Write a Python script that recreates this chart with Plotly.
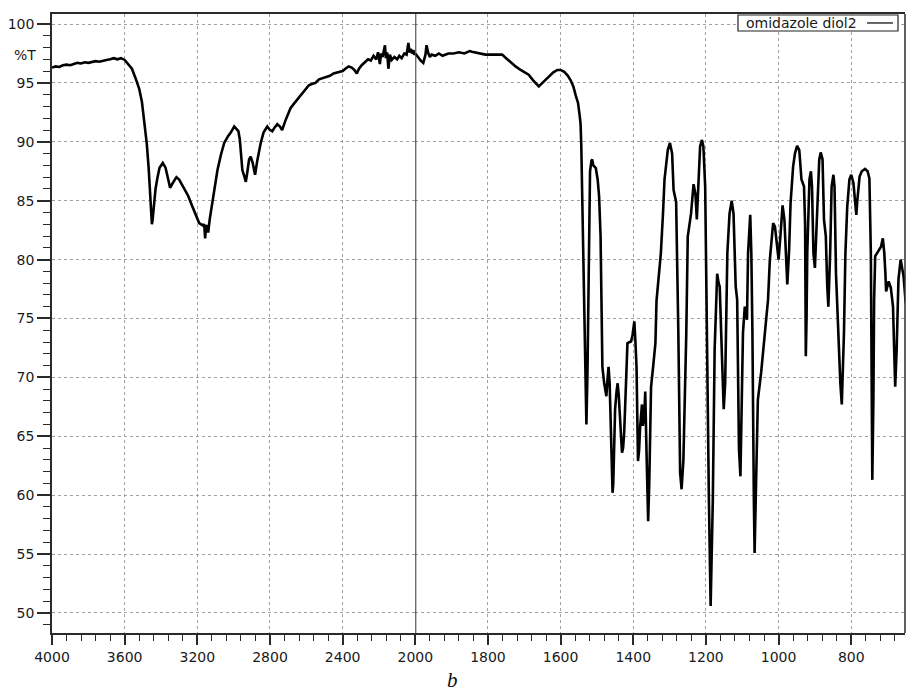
import numpy as np
import plotly.graph_objects as go

# IR spectrum of omidazole diol2: wavenumber (cm-1) vs. transmittance (%T)
SERIES_NAME = "omidazole diol2"
PANEL_LABEL = "b"
Y_TITLE = "%T"

WAVENUMBER = [
    4000, 3980, 3960, 3940, 3920, 3900, 3880, 3860, 3840, 3820, 3800, 3780, 3760, 3740,
    3720, 3700, 3680, 3660, 3640, 3620, 3600, 3580, 3560, 3540, 3520, 3505, 3490, 3478,
    3468, 3460, 3454, 3450, 3446, 3440, 3430, 3420, 3408, 3390, 3375, 3360, 3350, 3335,
    3315, 3300, 3285, 3270, 3250, 3235, 3210, 3190, 3170, 3162, 3157, 3152, 3145, 3140,
    3132, 3116, 3100, 3089, 3070, 3052, 3030, 3015, 2997, 2985, 2974, 2966, 2961, 2952,
    2940, 2933, 2925, 2915, 2906, 2895, 2886, 2882, 2870, 2851, 2835, 2815, 2800, 2787,
    2775, 2760, 2745, 2733, 2715, 2700, 2687, 2670, 2655, 2641, 2620, 2600, 2586, 2570,
    2550, 2530, 2513, 2495, 2470, 2450, 2430, 2413, 2400, 2385, 2367, 2350, 2335, 2322,
    2310, 2295, 2276, 2260, 2245, 2230, 2215, 2205, 2195, 2188, 2180, 2172, 2167, 2162,
    2155, 2148, 2140, 2130, 2115, 2100, 2088, 2075, 2060, 2048, 2042, 2038, 2032, 2025,
    2018, 2011, 2005, 2000,
    1995, 1992, 1985, 1978, 1972, 1969, 1965, 1960, 1955, 1945, 1935, 1925, 1909, 1895,
    1880, 1865, 1850, 1844, 1835, 1825, 1815, 1807, 1790, 1775, 1761, 1750, 1740, 1732,
    1724, 1710, 1700, 1688, 1675, 1665, 1660, 1650, 1640, 1632, 1620, 1609, 1600, 1590,
    1580, 1572, 1565, 1558, 1552, 1547, 1545, 1543, 1540, 1537, 1535, 1532, 1529, 1526,
    1524, 1522, 1519, 1515, 1513, 1510, 1506, 1503, 1498, 1494, 1490, 1488, 1485, 1480,
    1478, 1474, 1471, 1468, 1465, 1462, 1459, 1457, 1455, 1452, 1450, 1446, 1443, 1440,
    1437, 1434, 1431, 1428, 1425, 1420, 1416, 1410, 1406, 1402, 1397, 1394, 1391, 1388,
    1387, 1384, 1381, 1376, 1374, 1370, 1367, 1363, 1359, 1356, 1351, 1345, 1339, 1336,
    1330, 1324, 1318, 1314, 1305, 1299, 1293, 1289, 1282, 1279, 1276, 1271, 1267, 1262,
    1258, 1254, 1250, 1245, 1241, 1234, 1229, 1225, 1220, 1216, 1211, 1207, 1202, 1199,
    1196, 1192, 1187, 1183, 1181, 1176, 1171, 1169, 1165, 1162, 1158, 1155, 1151, 1147,
    1142, 1141, 1135, 1129, 1124, 1118, 1114, 1111, 1109, 1105, 1102, 1098, 1093, 1090,
    1087, 1084, 1078, 1075, 1072, 1068, 1066, 1061, 1057, 1048, 1038, 1029, 1024, 1015,
    1010, 1006, 1000, 995, 989, 984, 980, 976, 971, 967, 960, 955, 949, 943,
    937, 930, 927, 925, 923, 921, 915, 911, 908, 904, 900, 895, 888, 884,
    879, 875, 870, 866, 863, 858, 854, 849, 846, 842, 836, 830, 826, 820,
    816, 811, 805, 800, 794, 789, 786, 783, 777, 771, 762, 755, 750, 746,
    745, 742, 739, 737, 734, 725, 718, 713, 709, 706, 704, 697, 691, 685,
    681, 679, 675, 670, 664, 656, 650,
]

TRANSMITTANCE = [
    96.3, 96.4, 96.35, 96.5, 96.55, 96.5, 96.6, 96.7, 96.65, 96.75, 96.7, 96.8, 96.85, 96.8,
    96.9, 96.95, 97.0, 97.1, 97.0, 97.1, 96.95, 96.6, 96.2, 95.4, 94.5, 93.4, 91.6, 89.8,
    87.8, 85.8, 83.8, 83.0, 83.4, 84.6, 86.0, 86.9, 87.8, 88.2, 87.8, 86.8, 86.1, 86.5,
    87.0, 86.8, 86.4, 86.0, 85.4, 84.8, 83.8, 83.1, 82.9, 83.0, 81.8, 82.8, 82.9, 82.3,
    83.4, 85.1, 86.6, 87.6, 88.9, 89.9, 90.5, 90.8, 91.3, 91.1, 90.9, 90.2, 89.0, 87.6,
    87.0, 86.6, 87.4, 88.5, 88.75, 88.2, 87.5, 87.2, 88.4, 89.9, 90.8, 91.3, 91.0, 90.9,
    91.2, 91.5, 91.3, 91.0, 91.8, 92.4, 92.85, 93.2, 93.5, 93.7, 94.1, 94.5, 94.8, 94.9,
    95.0, 95.3, 95.4, 95.45, 95.6, 95.8, 95.9, 95.96, 96.0, 96.2, 96.4, 96.3, 96.1, 95.8,
    96.2, 96.5, 96.8, 97.0, 96.9, 97.3, 97.0, 97.6, 96.6, 97.5, 97.2, 97.9, 98.2, 97.1,
    97.6, 96.2, 97.4, 96.95, 97.2, 97.0, 97.3, 97.1, 97.5, 97.4, 98.0, 98.4, 97.6, 97.9,
    97.5, 97.8, 97.4, 97.5,
    97.3, 97.1, 96.9, 96.7, 97.4, 98.2, 97.6, 97.2, 97.4, 97.3, 97.5, 97.3, 97.5, 97.5,
    97.6, 97.5, 97.7, 97.65, 97.6, 97.5, 97.45, 97.4, 97.4, 97.4, 97.4, 97.1, 96.8, 96.6,
    96.4, 96.1, 95.9, 95.7, 95.2, 94.8, 94.7, 95.0, 95.3, 95.5, 95.9, 96.1, 96.1, 95.95,
    95.6, 95.2, 94.7, 93.9, 93.3, 92.1, 91.5, 89.6, 85.0, 80.0, 75.0, 70.0, 66.0, 70.5,
    76.6, 83.4, 87.5, 88.4, 88.5, 88.0, 87.9, 87.76, 86.8, 85.35, 82.0, 77.0, 70.9, 69.5,
    68.96, 68.4, 69.8, 70.9, 69.5, 66.0, 62.0, 60.2, 61.0, 64.5, 67.3, 68.8, 69.5, 68.5,
    66.7, 65.0, 63.6, 64.0, 65.3, 69.5, 72.9, 73.0, 73.05, 73.6, 74.75, 73.0, 70.9, 65.0,
    62.9, 63.8, 65.85, 67.7, 65.9, 66.5, 68.8, 63.0, 57.8, 61.0, 69.2, 71.0, 72.9, 76.5,
    78.3, 80.55, 84.0, 86.8, 89.3, 89.9, 89.0, 85.9, 84.9, 80.6, 74.0, 61.9, 60.5, 63.0,
    68.0, 73.8, 81.96, 83.0, 83.9, 86.4, 85.6, 83.4, 87.6, 89.6, 90.16, 89.6, 86.2, 77.7,
    68.0, 60.0, 50.6, 56.0, 59.6, 72.35, 77.7, 78.8, 78.0, 77.7, 73.8, 70.0, 67.3, 69.5,
    76.6, 80.55, 83.9, 85.0, 83.9, 77.7, 76.6, 70.0, 63.9, 61.6, 66.0, 73.8, 76.0, 75.4,
    74.9, 80.55, 83.8, 80.55, 73.8, 59.6, 55.1, 62.4, 68.1, 70.4, 73.8, 76.6, 80.0, 83.1,
    82.8, 81.4, 80.0, 81.96, 84.6, 83.4, 80.55, 77.9, 80.8, 84.8, 87.9, 89.0, 89.65, 89.3,
    86.8, 86.2, 83.0, 71.8, 75.0, 80.6, 86.8, 87.5, 86.2, 80.55, 79.3, 83.4, 88.5, 89.1,
    88.5, 83.4, 82.0, 77.7, 76.0, 80.55, 86.2, 87.2, 86.2, 78.85, 73.8, 69.5, 67.7, 73.8,
    80.55, 84.5, 86.8, 87.2, 86.5, 84.5, 83.8, 85.1, 87.05, 87.5, 87.7, 87.5, 86.9, 80.55,
    70.9, 61.3, 68.1, 76.6, 80.3, 80.8, 81.1, 81.8, 80.55, 78.85, 77.3, 78.15, 77.6, 76.0,
    71.2, 69.2, 72.35, 78.3, 80.0, 78.6, 76.3,
]

# Axis ticks: the scale doubles below 2000 cm-1
HIGH_TICKS = [4000, 3600, 3200, 2800, 2400]
LOW_TICKS = [2000, 1800, 1600, 1400, 1200, 1000, 800]
HIGH_MINOR = [v for v in range(3920, 2000, -80) if v % 400]
LOW_MINOR = [v for v in range(1960, 650, -40) if v % 200]
Y_RANGE = [48.3, 100.85]
X_BREAK = 2000
X_END = 652

wn = np.array(WAVENUMBER, dtype=float)
tr = np.array(TRANSMITTANCE, dtype=float)
hi = wn >= X_BREAK
lo = wn <= X_BREAK

# width of each panel in data units times its pixel density (low panel is 2x)
split = (4000 - X_BREAK) / ((4000 - X_BREAK) + 2 * (X_BREAK - X_END))

AX = "#2a2a2a"
GRID = "#a0a0a0"
FONT = dict(family="DejaVu Sans", size=14, color="#1a1a1a")
line_style = dict(color="black", width=2.6)

fig = go.Figure()
fig.add_trace(go.Scatter(x=wn[hi], y=tr[hi], mode="lines", line=line_style,
                         name=SERIES_NAME, xaxis="x", yaxis="y", showlegend=False))
fig.add_trace(go.Scatter(x=wn[lo], y=tr[lo], mode="lines", line=line_style,
                         name=SERIES_NAME, xaxis="x2", yaxis="y", showlegend=False))

xcommon = dict(
    ticks="outside", ticklen=10, tickwidth=1.5, tickcolor=AX,
    showline=True, linecolor=AX, linewidth=1.5, mirror=True,
    showgrid=True, gridcolor=GRID, gridwidth=1, griddash="3px,3px",
    zeroline=False, tickfont=FONT, anchor="y",
)

fig.update_layout(
    width=906, height=691,
    margin=dict(l=52, r=1, t=14, b=58),
    paper_bgcolor="white", plot_bgcolor="white",
    showlegend=False,
    xaxis=dict(domain=[0, split], range=[4000, X_BREAK], tickmode="array",
               tickvals=HIGH_TICKS,
               minor=dict(tickmode="array", tickvals=HIGH_MINOR, ticks="outside",
                          ticklen=6, tickwidth=1.2, tickcolor=AX, showgrid=False),
               **xcommon),
    xaxis2=dict(domain=[split, 1], range=[X_BREAK, X_END], tickmode="array",
                tickvals=LOW_TICKS,
                minor=dict(tickmode="array", tickvals=LOW_MINOR, ticks="outside",
                           ticklen=6, tickwidth=1.2, tickcolor=AX, showgrid=False),
                **xcommon),
    yaxis=dict(range=Y_RANGE, tick0=0, dtick=5, ticks="outside", ticklen=13,
               tickwidth=1.5, tickcolor=AX, showline=True, linecolor=AX, linewidth=1.5,
               showgrid=True, gridcolor=GRID, gridwidth=1, griddash="3px,3px",
               zeroline=False, tickfont=FONT, anchor="x",
               minor=dict(dtick=1, ticks="outside", ticklen=7, tickwidth=1.2,
                          tickcolor=AX, showgrid=False)),
)

# scale-change divider and right-hand frame edge
fig.add_shape(type="line", xref="x2", yref="paper", x0=X_BREAK, x1=X_BREAK, y0=0, y1=1,
              line=dict(color="#333333", width=2))
fig.add_shape(type="line", xref="paper", yref="paper", x0=1, x1=1, y0=0, y1=1,
              line=dict(color=AX, width=1.5))

# y-axis unit label
fig.add_annotation(text=Y_TITLE, xref="paper", yref="paper", x=-0.032, y=0.934,
                   xanchor="center", yanchor="middle", showarrow=False, font=FONT)

# legend box with the series name and a line sample on its right
fig.add_shape(type="rect", xref="paper", yref="paper", x0=0.8042, x1=0.9918,
              y0=0.9725, y1=0.9984, line=dict(color="#222222", width=1.2),
              fillcolor="white", layer="above")
fig.add_annotation(text=SERIES_NAME, xref="paper", yref="paper", x=0.8113, y=0.9855,
                   xanchor="left", yanchor="middle", showarrow=False, font=FONT)
fig.add_shape(type="line", xref="paper", yref="paper", x0=0.9555, x1=0.9859,
              y0=0.9855, y1=0.9855, line=dict(color="black", width=1.2), layer="above")

# panel label below the axis
fig.add_annotation(text=f"<i>{PANEL_LABEL}</i>", xref="paper", yref="paper",
                   x=0.470, y=-0.076, xanchor="center", yanchor="middle",
                   showarrow=False,
                   font=dict(family="Liberation Serif", size=21, color="#111111"))

fig.write_html("out.html")
